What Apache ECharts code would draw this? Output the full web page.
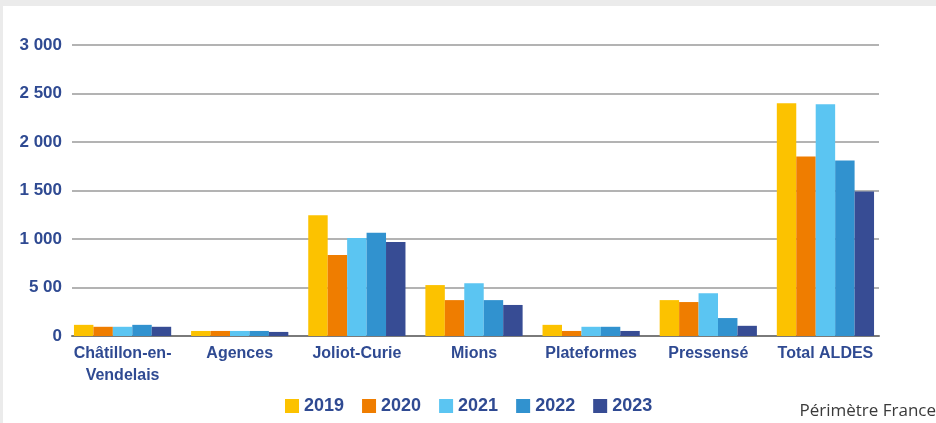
<!DOCTYPE html>
<html>
<head>
<meta charset="utf-8">
<script src="https://cdn.jsdelivr.net/npm/echarts@6/dist/echarts.min.js"></script>
<style>
html,body{margin:0;padding:0;background:#fff;}
#c{width:936px;height:423px;}
</style>
</head>
<body>
<div id="c"></div>
<script>
const categories = ["Châtillon-en-\nVendelais", "Agences", "Joliot-Curie", "Mions", "Plateformes", "Pressensé", "Total ALDES"];
const years = ["2019", "2020", "2021", "2022", "2023"];
const v2019 = [115, 52, 1245, 525, 115, 370, 2400];
const v2020 = [95, 52, 835, 370, 52, 350, 1850];
const v2021 = [95, 52, 1010, 545, 95, 440, 2390];
const v2022 = [115, 52, 1065, 370, 95, 185, 1810];
const v2023 = [95, 42, 970, 320, 52, 105, 1490];
const yTickValues = [0, 500, 1000, 1500, 2000, 2500, 3000];
const yTickLabels = ["0", "5 00", "1 000", "1 500", "2 000", "2 500", "3 000"];
const colors = ["#fcc200", "#ef7d00", "#5bc5f2", "#3192cf", "#374c94"];
const seriesValues = [v2019, v2020, v2021, v2022, v2023];

const navy = "#2f4a92";
const font = "'Liberation Sans', Arial, sans-serif";

const chart = echarts.init(document.getElementById('c'), null, {renderer: 'canvas'});
chart.setOption({
  animation: false,
  backgroundColor: '#ffffff',
  color: colors,
  grid: [
    {left: 64, right: 52, top: 45, bottom: 87},
    {left: 72, right: 57, top: 45, bottom: 87}
  ],
  legend: {
    data: years,
    left: 285, top: 397, padding: 0,
    itemWidth: 14, itemHeight: 14, itemGap: 18,
    icon: 'rect',
    textStyle: {color: navy, fontFamily: font, fontWeight: 'bold', fontSize: 18}
  },
  xAxis: [
    {
      type: 'category', gridIndex: 0,
      data: categories,
      axisLine: {show: false},
      axisTick: {show: false},
      axisLabel: {color: navy, fontFamily: font, fontWeight: 'bold', fontSize: 16, lineHeight: 22, margin: 7, interval: 0}
    },
    {
      type: 'category', gridIndex: 1,
      data: categories,
      axisLine: {show: true, lineStyle: {color: '#7a7a7a', width: 2}},
      axisTick: {show: false},
      axisLabel: {show: false}
    }
  ],
  yAxis: [
    {
      type: 'value', gridIndex: 0, min: 0, max: 3000, interval: 500,
      axisLine: {show: false}, axisTick: {show: false},
      splitLine: {show: false}, axisLabel: {show: false}
    },
    {
      type: 'value', gridIndex: 1, min: 0, max: 3000, interval: 500,
      axisLine: {show: false}, axisTick: {show: false},
      splitLine: {lineStyle: {color: '#9a9a9a', width: 1.5}},
      axisLabel: {
        color: navy, fontFamily: font, fontWeight: 'bold', fontSize: 17, margin: 10,
        formatter: function (v) { const i = yTickValues.indexOf(v); return i >= 0 ? yTickLabels[i] : ''; }
      }
    }
  ],
  series: years.map((y, i) => ({
    name: y, type: 'bar', data: seriesValues[i],
    xAxisIndex: 0, yAxisIndex: 0,
    barGap: '0%', barCategoryGap: '17%',
    itemStyle: {color: colors[i]}, z: 3
  })),
  graphic: [
    {type: 'rect', shape: {x: 0, y: 0, width: 936, height: 6}, style: {fill: '#ebebeb'}, z: 100},
    {type: 'rect', shape: {x: 0, y: 0, width: 3, height: 423}, style: {fill: '#ebebeb'}, z: 100},
    {type: 'text', right: 0, top: 403, style: {text: 'Périmètre France', fill: '#3a3a3a', font: "17px 'Open Sans', 'Liberation Sans', sans-serif"}}
  ]
});
</script>
</body>
</html>
